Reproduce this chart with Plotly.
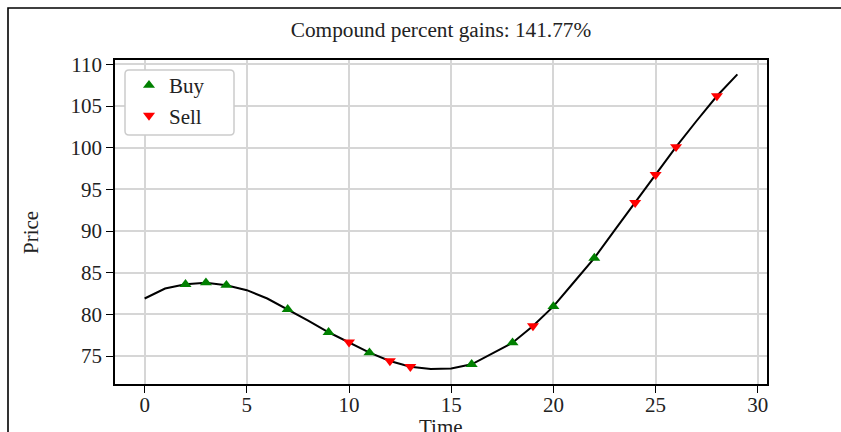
import plotly.graph_objects as go

# Data
time = list(range(30))
price = [81.9, 83.1, 83.6, 83.8, 83.5, 82.9, 81.9, 80.6, 79.25, 77.85,
         76.65, 75.4, 74.4, 73.72, 73.44, 73.5, 74.0, 75.3, 76.6, 78.6,
         80.95, 83.85, 86.75, 90.1, 93.4, 96.75, 100.1, 103.2, 106.2, 108.8]
buy_idx = [2, 3, 4, 7, 9, 11, 16, 18, 20, 22]
sell_idx = [10, 12, 13, 19, 24, 25, 26, 28]
title_text = "Compound percent gains: 141.77%"
x_label = "Time"
y_label = "Price"
x_ticks = [0, 5, 10, 15, 20, 25, 30]
y_ticks = [75, 80, 85, 90, 95, 100, 105, 110]

FONT = "Liberation Serif, Times New Roman, serif"
TXT = "#222222"

fig = go.Figure()
fig.add_trace(go.Scatter(x=time, y=price, mode="lines",
                         line=dict(color="black", width=2),
                         showlegend=False, hoverinfo="skip"))
fig.add_trace(go.Scatter(x=[time[i] for i in buy_idx], y=[price[i] for i in buy_idx],
                         mode="markers", name="Buy",
                         marker=dict(symbol="triangle-up", color="green", size=10.5)))
fig.add_trace(go.Scatter(x=[time[i] for i in sell_idx], y=[price[i] for i in sell_idx],
                         mode="markers", name="Sell",
                         marker=dict(symbol="triangle-down", color="red", size=10.5)))

L, R, T, B = 115, 74, 60, 48
W, H = 841, 432
pw, ph = W - L - R, H - T - B


def px_x(p):
    return (p - L) / pw


def px_y(p):
    return 1 - (p - T) / ph


axis_common = dict(showline=True, linecolor="black", linewidth=1.6, mirror=True,
                   ticks="outside", ticklen=7, tickwidth=1.3, tickcolor="black",
                   showgrid=True, gridcolor="#d6d6d6", gridwidth=2,
                   zeroline=False, automargin=False,
                   tickfont=dict(family=FONT, size=21, color=TXT))

fig.update_layout(
    width=W, height=H,
    margin=dict(l=L, r=R, t=T, b=B, autoexpand=False),
    paper_bgcolor="white", plot_bgcolor="white",
    font=dict(family=FONT, size=21, color=TXT),
    title=dict(text=title_text, x=0.5, xref="paper", y=1 - 30 / H, yref="container",
               xanchor="center", yanchor="middle",
               font=dict(family=FONT, size=21.3, color=TXT)),
    xaxis=dict(range=[-1.45, 30.45], tickvals=x_ticks, ticklabelstandoff=-6, **axis_common),
    yaxis=dict(range=[71.64, 110.52], tickvals=y_ticks, **axis_common),
    legend=dict(x=px_x(129), y=px_y(65), xanchor="left", yanchor="top",
                bgcolor="rgba(0,0,0,0)", borderwidth=0,
                font=dict(family=FONT, size=21, color=TXT),
                itemsizing="trace"),
    showlegend=True,
)

# Axis labels (the x label is cut by the lower edge, as in the reference)
fig.add_annotation(text=x_label, xref="paper", yref="paper", x=0.5, y=px_y(427),
                   xanchor="center", yanchor="middle", showarrow=False,
                   font=dict(family=FONT, size=21, color=TXT))
fig.add_annotation(text=y_label, xref="paper", yref="paper", x=px_x(31), y=px_y(233),
                   xanchor="center", yanchor="middle", showarrow=False, textangle=-90,
                   font=dict(family=FONT, size=21, color=TXT))

# Legend frame with rounded corners
x0, x1, y0, y1, r = 125, 234, 70, 135, 4
path = (f"M {px_x(x0 + r)},{px_y(y0)} L {px_x(x1 - r)},{px_y(y0)} "
        f"Q {px_x(x1)},{px_y(y0)} {px_x(x1)},{px_y(y0 + r)} "
        f"L {px_x(x1)},{px_y(y1 - r)} Q {px_x(x1)},{px_y(y1)} {px_x(x1 - r)},{px_y(y1)} "
        f"L {px_x(x0 + r)},{px_y(y1)} Q {px_x(x0)},{px_y(y1)} {px_x(x0)},{px_y(y1 - r)} "
        f"L {px_x(x0)},{px_y(y0 + r)} Q {px_x(x0)},{px_y(y0)} {px_x(x0 + r)},{px_y(y0)} Z")
fig.add_shape(type="path", path=path, xref="paper", yref="paper",
              line=dict(color="#cccccc", width=1.5), fillcolor="white", layer="above")

# Figure frame (partially cropped in the reference)
fig.add_shape(type="rect", xref="paper", yref="paper",
              x0=px_x(8), x1=px_x(W + 20), y0=px_y(H + 20), y1=px_y(8),
              line=dict(color="black", width=1.6), fillcolor="rgba(0,0,0,0)", layer="below")

fig.write_html("out.html")
